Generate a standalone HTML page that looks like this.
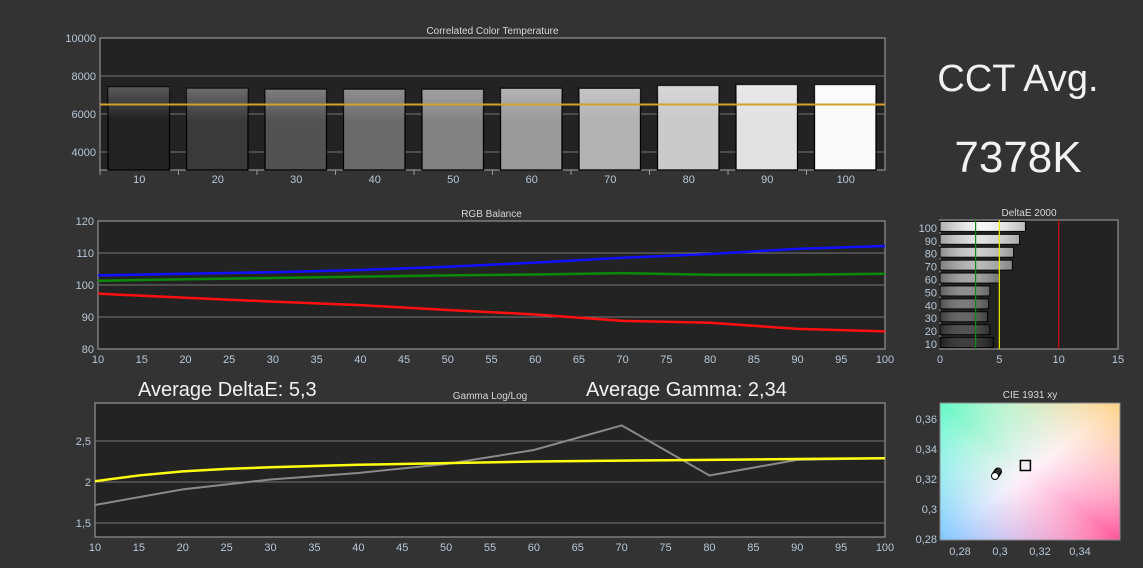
<!DOCTYPE html>
<html><head><meta charset="utf-8"><style>
body{margin:0;background:#333333;width:1143px;height:568px;overflow:hidden;font-family:"Liberation Sans",sans-serif}
svg{display:block}
</style></head><body>
<svg id="s" width="1143" height="568" xmlns="http://www.w3.org/2000/svg">
<defs>
<linearGradient id="cieg1" x1="0" y1="0" x2="1" y2="1">
<stop offset="0" stop-color="#5ff5a8"/><stop offset="0.5" stop-color="#fff0fa"/><stop offset="1" stop-color="#ff5599"/>
</linearGradient>
<linearGradient id="cieg2" x1="0" y1="1" x2="1" y2="0">
<stop offset="0" stop-color="#7aa0ff" stop-opacity="0.9"/><stop offset="0.5" stop-color="#ffffff" stop-opacity="0"/><stop offset="1" stop-color="#ffcc77" stop-opacity="0.9"/>
</linearGradient>
<linearGradient id="cieg3" x1="0" y1="0" x2="1" y2="0">
<stop offset="0" stop-color="#66ffff" stop-opacity="0.35"/><stop offset="0.5" stop-color="#ffffff" stop-opacity="0"/><stop offset="1" stop-color="#ff88ff" stop-opacity="0"/>
</linearGradient>
<linearGradient id="barsheen" x1="0" y1="0" x2="0" y2="1">
<stop offset="0" stop-color="#fff" stop-opacity="0.25"/><stop offset="0.4" stop-color="#fff" stop-opacity="0"/><stop offset="1" stop-color="#000" stop-opacity="0"/>
</linearGradient>
<linearGradient id="desheen" x1="0" y1="0" x2="1" y2="0">
<stop offset="0" stop-color="#000" stop-opacity="0.3"/><stop offset="0.5" stop-color="#fff" stop-opacity="0.1"/><stop offset="1" stop-color="#000" stop-opacity="0.25"/>
</linearGradient>
</defs>
<text x="1018" y="91" fill="#f2f2f2" font-size="38" text-anchor="middle">CCT Avg.</text>
<text x="1018" y="172" fill="#f2f2f2" font-size="44" text-anchor="middle">7378K</text>
<text x="138" y="396" fill="#f2f2f2" font-size="20">Average DeltaE: 5,3</text>
<text x="586" y="396" fill="#f2f2f2" font-size="20">Average Gamma: 2,34</text>
</svg>
<script>
const cctCats=[10,20,30,40,50,60,70,80,90,100];
const cctVals=[7420,7350,7300,7300,7300,7350,7350,7500,7550,7550];
const cctTarget=6500;
const cctTicks=[4000,6000,8000,10000];
const rgbX=[10,20,30,40,50,60,70,80,90,100];
const rgbRed=[97.3,96,94.8,93.7,92.2,90.8,88.8,88.2,86.3,85.5];
const rgbGreen=[101.3,101.8,102.2,102.6,103,103.3,103.7,103.2,103.2,103.5];
const rgbBlue=[103,103.5,104,104.7,105.7,107,108.5,109.7,111.3,112.2];
const rgbYTicks=[80,90,100,110,120];
const xTicks5=[10,15,20,25,30,35,40,45,50,55,60,65,70,75,80,85,90,95,100];
const gamX=[10,20,30,40,50,60,70,80,90,100];
const gamMeas=[1.72,1.91,2.03,2.11,2.22,2.39,2.69,2.08,2.27,2.29];
const gamTX=[10,15,20,25,30,40,50,60,70,80,90,100];
const gamTarget=[2.01,2.08,2.13,2.16,2.18,2.21,2.23,2.25,2.26,2.27,2.28,2.29];
const gamYTicks=[1.5,2,2.5];
const deCats=[10,20,30,40,50,60,70,80,90,100];
const deVals=[4.5,4.2,4.0,4.1,4.2,5.0,6.1,6.2,6.7,7.2];
const deXTicks=[0,5,10,15];
const cieTarget=[0.3127,0.329];
const ciePtsX=[0.2975,0.298,0.2985,0.299];
const ciePtsY=[0.322,0.323,0.324,0.325];
const cieXTicks=[0.28,0.3,0.32,0.34];
const cieYTicks=[0.28,0.3,0.32,0.34,0.36];

const S=document.getElementById('s');const NS='http://www.w3.org/2000/svg';
function mk(tag,a,name,txt){const e=document.createElementNS(NS,tag);for(const k in a)e.setAttribute(k,a[k]);


if(txt!==undefined)e.textContent=txt;S.appendChild(e);return e;}
const lab='#b8c8d8';
function frame(x0,y0,x1,y1,title,name){mk('rect',{x:x0,y:y0,width:x1-x0,height:y1-y0,fill:'#232323',stroke:'#8a8a8a','stroke-width':1.3},name+'-plot-area');
mk('text',{x:(x0+x1)/2,y:y0-4,fill:'#d8d8d8','font-size':10,'text-anchor':'middle'},name+'-title',title);}
const fmt=v=>String(v).replace('.',',');

// CCT
{const x0=100,x1=885,y0=38,y1=170;frame(x0,y0,x1,y1,'Correlated Color Temperature','cct');
const ys=v=>y0+(10000-v)*0.019;const sw=(x1-x0)/cctCats.length;
cctTicks.forEach(t=>{if(t<10000)mk('line',{x1:x0,x2:x1,y1:ys(t),y2:ys(t),stroke:'#777'},'cct-gridline');mk('text',{x:x0-4,y:ys(t)+4,fill:lab,'font-size':11,'text-anchor':'end'},'cct-y-tick',t);});
cctCats.forEach((c,i)=>{const g=Math.round(34+i*24);const col=`rgb(${g},${g},${g})`;
mk('rect',{x:x0+i*sw+8,y:ys(cctVals[i]),width:sw-17,height:y1-ys(cctVals[i]),fill:col,stroke:'#000','stroke-width':1.3},'cct-bar-'+c);
mk('rect',{x:x0+i*sw+8,y:ys(cctVals[i]),width:sw-17,height:y1-ys(cctVals[i]),fill:'url(#barsheen)'},'cct-bar-sheen');
mk('line',{x1:x0+i*sw,x2:x0+i*sw,y1:y1,y2:y1+5,stroke:'#999'},'cct-x-tick-mark');
mk('text',{x:x0+i*sw+sw/2,y:y1+13,fill:lab,'font-size':11,'text-anchor':'middle'},'cct-x-tick',c);});
mk('line',{x1:x0,x2:x1,y1:ys(cctTarget),y2:ys(cctTarget),stroke:'#d4a030','stroke-width':2},'cct-target-line');}

function line(xs,ys,X,Y,col,w,name){mk('polyline',{points:xs.map((v,i)=>X(v)+','+Y(ys[i])).join(' '),fill:'none',stroke:col,'stroke-width':w},name);}
// RGB
{const x0=98,x1=885,y0=221,y1=349;frame(x0,y0,x1,y1,'RGB Balance','rgb');
const X=v=>x0+(v-10)*(x1-x0)/90,Y=v=>y0+(120-v)*3.2;
rgbYTicks.forEach(t=>{if(t>80&&t<120)mk('line',{x1:x0,x2:x1,y1:Y(t),y2:Y(t),stroke:'#777'},'rgb-gridline');mk('text',{x:x0-4,y:Y(t)+4,fill:lab,'font-size':11,'text-anchor':'end'},'rgb-y-tick',t);});
xTicks5.forEach(t=>mk('text',{x:X(t),y:y1+14,fill:lab,'font-size':11,'text-anchor':'middle'},'rgb-x-tick',t));
line(rgbX,rgbGreen,X,Y,'#0a8a0a',2.5,'green-series');line(rgbX,rgbBlue,X,Y,'#1010ff',2.5,'blue-series');line(rgbX,rgbRed,X,Y,'#ff1010',2.5,'red-series');}
// Gamma
{const x0=95,x1=885,y0=403,y1=537;frame(x0,y0,x1,y1,'Gamma Log/Log','gamma');
const X=v=>x0+(v-10)*(x1-x0)/90,Y=v=>482-(v-2)*82;
gamYTicks.forEach(t=>{mk('line',{x1:x0,x2:x1,y1:Y(t),y2:Y(t),stroke:'#777'},'gamma-gridline');mk('text',{x:x0-4,y:Y(t)+4,fill:lab,'font-size':11,'text-anchor':'end'},'gamma-y-tick',fmt(t));});
xTicks5.forEach(t=>mk('text',{x:X(t),y:y1+14,fill:lab,'font-size':11,'text-anchor':'middle'},'gamma-x-tick',t));
line(gamX,gamMeas,X,Y,'#8a8a8a',2,'gamma-measured');line(gamTX,gamTarget,X,Y,'#ffff10',2.5,'gamma-target');}
// DeltaE
{const x0=940,x1=1118,y0=220,y1=349;frame(x0,y0,x1,y1,'DeltaE 2000','deltae');
const X=v=>x0+v*(x1-x0)/15;const rh=(y1-y0)/deCats.length;
deXTicks.forEach(t=>mk('text',{x:X(t),y:y1+14,fill:lab,'font-size':11,'text-anchor':'middle'},'deltae-x-tick',t));
deCats.forEach((c,i)=>{const y=y1-(i+1)*rh;const g=Math.round(40+i*23);
mk('rect',{x:x0,y:y+1.5,width:X(deVals[i])-x0,height:rh-3,fill:`rgb(${g},${g},${g})`,stroke:'#000'},'deltae-bar-'+c);
mk('rect',{x:x0,y:y+1.5,width:X(deVals[i])-x0,height:rh-3,fill:'url(#desheen)'},'deltae-bar-sheen');
mk('text',{x:x0-3,y:y+rh-1,fill:lab,'font-size':11,'text-anchor':'end'},'deltae-y-tick',c);});
[[3,'#118811'],[5,'#eeee00'],[10,'#cc1111']].forEach(a=>mk('line',{x1:X(a[0]),x2:X(a[0]),y1:y0,y2:y1,stroke:a[1],'stroke-width':1.2},'deltae-threshold-'+a[0]));}
// CIE
{const x0=940,x1=1120,y0=403,y1=540;
mk('text',{x:(x0+x1)/2,y:y0-5,fill:'#d8d8d8','font-size':10,'text-anchor':'middle'},'cie-title','CIE 1931 xy');
mk('rect',{x:x0,y:y0,width:x1-x0,height:y1-y0,fill:'url(#cieg1)'},'cie-gamut-bg');
mk('rect',{x:x0,y:y0,width:x1-x0,height:y1-y0,fill:'url(#cieg2)'},'cie-gamut-overlay');
mk('rect',{x:x0,y:y0,width:x1-x0,height:y1-y0,fill:'url(#cieg3)',stroke:'#8a8a8a'},'cie-plot-area');
const X=v=>1000+(v-0.3)*2000,Y=v=>509-(v-0.3)*1500;
cieXTicks.forEach(t=>mk('text',{x:X(t),y:y1+15,fill:lab,'font-size':11,'text-anchor':'middle'},'cie-x-tick',fmt(t)));
cieYTicks.forEach(t=>mk('text',{x:x0-3,y:Y(t)+4,fill:lab,'font-size':11,'text-anchor':'end'},'cie-y-tick',fmt(t)));
mk('rect',{x:X(cieTarget[0])-5,y:Y(cieTarget[1])-5,width:10,height:10,fill:'none',stroke:'#000','stroke-width':1.5},'cie-target-point');
for(let i=ciePtsX.length-1;i>=0;i--)mk('circle',{cx:X(ciePtsX[i]),cy:Y(ciePtsY[i]),r:3.5,fill:i==0?'#fff':'#777',stroke:'#000'},'cie-measured-point');}
</script>
</body></html>
